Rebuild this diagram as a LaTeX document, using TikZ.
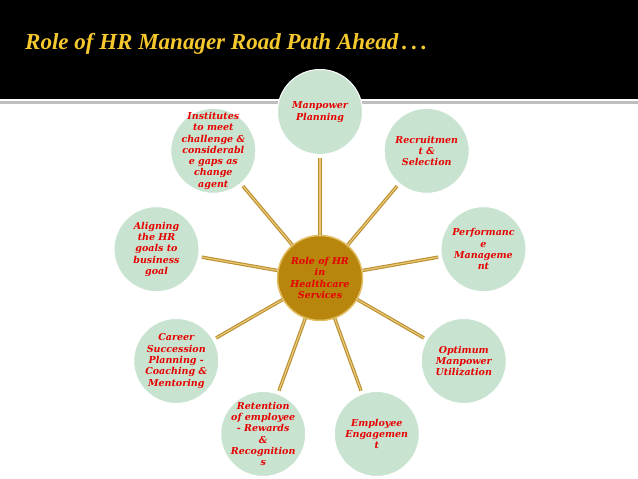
\documentclass[tikz,border=0pt]{standalone}
\usepackage{fontspec}
\setmainfont{DejaVu Serif}
\newfontfamily\titlefont{Liberation Serif}
\usepackage{tikz}
\usetikzlibrary{calc}

\definecolor{mint}{RGB}{200,228,208}
\definecolor{hubgold}{RGB}{184,134,12}
\definecolor{rimgold}{RGB}{226,190,100}
\definecolor{spokedark}{RGB}{185,142,50}
\definecolor{spokelight}{RGB}{232,200,115}
\definecolor{labelred}{RGB}{230,0,0}
\definecolor{titleyellow}{RGB}{245,200,45}
\definecolor{rulegray}{RGB}{190,190,190}

\begin{document}
\begin{tikzpicture}[
    x=1pt, y=1pt,
    petal/.style={circle, fill=mint, draw=white, line width=1pt, minimum size=85pt, inner sep=-12pt, align=center, text=labelred, font=\fontsize{9.5}{11.3}\selectfont\bfseries\itshape},
    hubnode/.style={petal, fill=hubgold, draw=rimgold, line width=1.5pt},
    spoke/.style={draw=spokedark, line width=1.1pt, double=spokelight, double distance=1.2pt, shorten >=3pt},
    heading/.style={font=\titlefont\fontsize{23}{26}\selectfont\bfseries\itshape, text=titleyellow, anchor=base west, inner sep=0pt}
]
    \useasboundingbox (0,0) rectangle (638,479);

    % Header band
    \fill[black] (0,380) rectangle (638,479);
    \fill[rulegray] (0,375) rectangle (638,378);
    \node[heading] (title) at (25,429) {Role of HR  Manager Road Path Ahead\,.\,.\,.};

    % Hub
    \node[hubnode] (hub) at (320,201) {Role of HR\\in\\Healthcare\\Services};

    % Petals
    \node[petal] (manpower) at ($(hub)+(90:166)$) {Manpower\\Planning};
    \node[petal] (recruit) at ($(hub)+(50:166)$) {Recruitmen\\t \&\\Selection};
    \node[petal] (perform) at ($(hub)+(10:166)$) {Performanc\\e\\Manageme\\nt};
    \node[petal] (optimum) at ($(hub)+(-30:166)$) {Optimum\\Manpower\\Utilization};
    \node[petal] (engage) at ($(hub)+(-70:166)$) {Employee\\Engagemen\\t};
    \node[petal] (retain) at ($(hub)+(-110:166)$) {Retention\\of employee\\- Rewards\\\&\\Recognition\\s};
    \node[petal] (career) at ($(hub)+(-150:166)$) {Career\\Succession\\Planning -\\Coaching \&\\Mentoring};
    \node[petal] (align) at ($(hub)+(170:166)$) {Aligning\\the HR\\goals to\\business\\goal};
    \node[petal] (institute) at ($(hub)+(130:166)$) {Institutes\\to meet\\challenge \&\\considerabl\\e gaps as\\change\\agent};

    % Spokes
    \draw[spoke] (hub) -- (manpower);
    \draw[spoke] (hub) -- (recruit);
    \draw[spoke] (hub) -- (perform);
    \draw[spoke] (hub) -- (optimum);
    \draw[spoke] (hub) -- (engage);
    \draw[spoke] (hub) -- (retain);
    \draw[spoke] (hub) -- (career);
    \draw[spoke] (hub) -- (align);
    \draw[spoke] (hub) -- (institute);
\end{tikzpicture}
\end{document}
